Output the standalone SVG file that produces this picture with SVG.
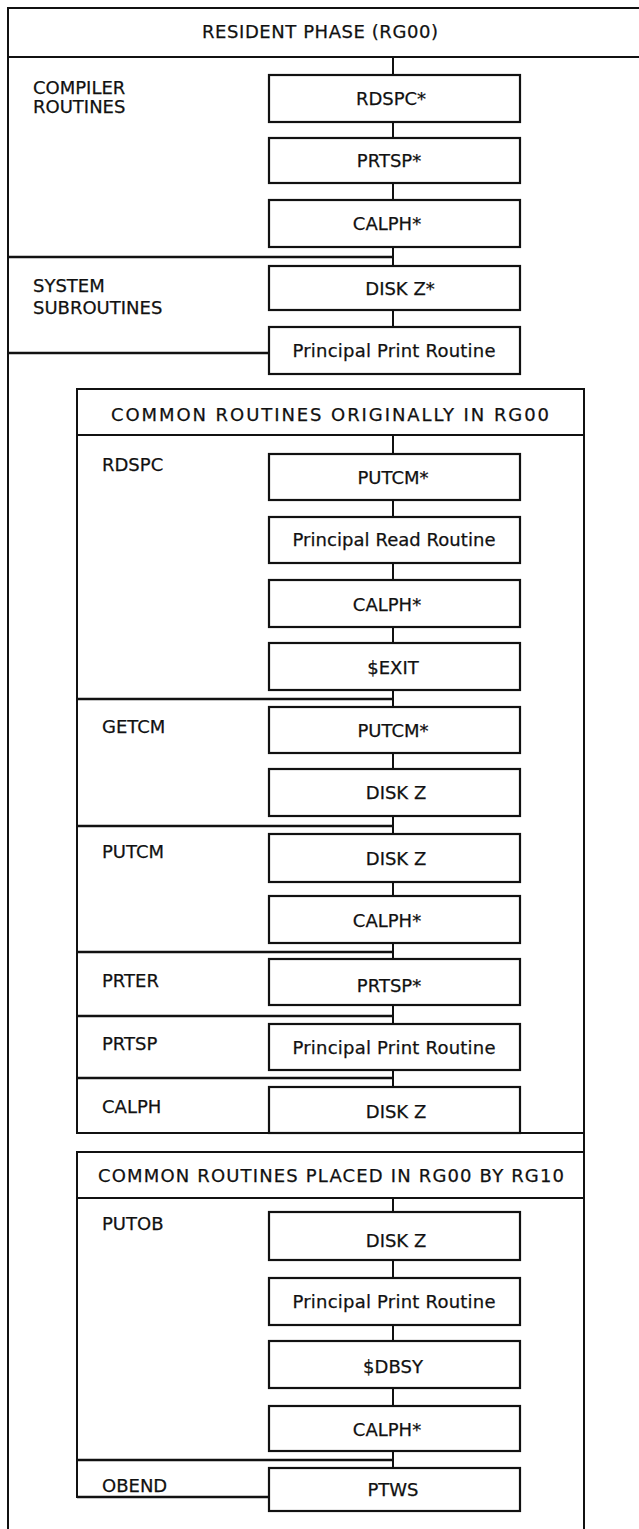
<svg xmlns="http://www.w3.org/2000/svg" width="639" height="1529" viewBox="0 0 639 1529">
<style>
  .ln { stroke: #111; stroke-width: 2; fill: none; stroke-linecap: square; }
  .sec { stroke: #111; stroke-width: 2.5; fill: none; }
  .box { fill: #fff; stroke: #111; stroke-width: 2.2; }
  .t { font-family: "DejaVu Sans", "Liberation Sans", sans-serif; font-size: 18px; fill: #111; stroke: #111; stroke-width: 0.25; }
  .c { text-anchor: middle; }
</style>
<rect x="0" y="0" width="639" height="1529" fill="#fff"/>

<g id="frames">
  <line class="ln" x1="8" y1="8" x2="639" y2="8"/>
  <line class="ln" x1="8" y1="57" x2="639" y2="57"/>
  <line class="ln" x1="8" y1="8" x2="8" y2="1529"/>
  <line class="ln" x1="77" y1="389" x2="584" y2="389"/>
  <line class="ln" x1="77" y1="435" x2="584" y2="435"/>
  <line class="ln" x1="77" y1="389" x2="77" y2="1133"/>
  <line class="ln" x1="77" y1="1133" x2="584" y2="1133"/>
  <line class="ln" x1="77" y1="1152" x2="584" y2="1152"/>
  <line class="ln" x1="77" y1="1198" x2="584" y2="1198"/>
  <line class="ln" x1="77" y1="1152" x2="77" y2="1497"/>
  <line class="ln" x1="584" y1="389" x2="584" y2="1529"/>
</g>

<g id="headers">
  <text id="h-resident" class="t c" x="320" y="38" textLength="236" lengthAdjust="spacing">RESIDENT PHASE (RG00)</text>
  <text id="h-common1" class="t c" x="330" y="421" textLength="438" lengthAdjust="spacing">COMMON ROUTINES ORIGINALLY IN RG00</text>
  <text id="h-common2" class="t c" x="331" y="1182" textLength="466" lengthAdjust="spacing">COMMON ROUTINES PLACED IN RG00 BY RG10</text>
</g>

<g id="section-labels">
  <text class="t" x="33" y="94">COMPILER</text>
  <text class="t" x="33" y="113">ROUTINES</text>
  <text class="t" x="33" y="292">SYSTEM</text>
  <text class="t" x="33" y="314">SUBROUTINES</text>
  <text class="t" x="102" y="471">RDSPC</text>
  <text class="t" x="102" y="733">GETCM</text>
  <text class="t" x="102" y="858">PUTCM</text>
  <text class="t" x="102" y="987">PRTER</text>
  <text class="t" x="102" y="1050">PRTSP</text>
  <text class="t" x="102" y="1113">CALPH</text>
  <text class="t" x="102" y="1230">PUTOB</text>
  <text class="t" x="102" y="1492">OBEND</text>
</g>

<g id="connectors">
  <path class="ln" d="M393 57V75 M393 122V138 M393 183V200 M393 247V266 M393 310V327
    M393 435V454 M393 500V517 M393 563V580 M393 627V643 M393 690V707 M393 753V769 M393 816V834
    M393 882V896 M393 943V959 M393 1005V1024 M393 1070V1087
    M393 1198V1212 M393 1260V1278 M393 1325V1341 M393 1388V1406 M393 1451V1468"/>
  <path class="sec" d="M8 257H393 M8 353H269 M77 699H393 M77 826H393 M77 952H393 M77 1016H393 M77 1078H393 M77 1460H393 M77 1497H269"/>
</g>

<g id="n-rdspc-star"><rect class="box" x="269" y="75" width="251" height="47"/><text class="t c" x="391" y="105">RDSPC*</text></g>
<g id="n-prtsp-star"><rect class="box" x="269" y="138" width="251" height="45"/><text class="t c" x="389" y="167">PRTSP*</text></g>
<g id="n-calph-star1"><rect class="box" x="269" y="200" width="251" height="47"/><text class="t c" x="387" y="230">CALPH*</text></g>
<g id="n-diskz-star"><rect class="box" x="269" y="266" width="251" height="44"/><text class="t c" x="400" y="295">DISK Z*</text></g>
<g id="n-ppr1"><rect class="box" x="269" y="327" width="251" height="47"/><text class="t c" x="394" y="357" textLength="203" lengthAdjust="spacing">Principal Print Routine</text></g>

<g id="n-putcm-star1"><rect class="box" x="269" y="454" width="251" height="46"/><text class="t c" x="393" y="484">PUTCM*</text></g>
<g id="n-prr"><rect class="box" x="269" y="517" width="251" height="46"/><text class="t c" x="394" y="546" textLength="203" lengthAdjust="spacing">Principal Read Routine</text></g>
<g id="n-calph-star2"><rect class="box" x="269" y="580" width="251" height="47"/><text class="t c" x="387" y="611">CALPH*</text></g>
<g id="n-exit"><rect class="box" x="269" y="643" width="251" height="47"/><text class="t c" x="393" y="674">$EXIT</text></g>
<g id="n-putcm-star2"><rect class="box" x="269" y="707" width="251" height="46"/><text class="t c" x="393" y="737">PUTCM*</text></g>
<g id="n-diskz1"><rect class="box" x="269" y="769" width="251" height="47"/><text class="t c" x="396" y="799">DISK Z</text></g>
<g id="n-diskz2"><rect class="box" x="269" y="834" width="251" height="48"/><text class="t c" x="396" y="865">DISK Z</text></g>
<g id="n-calph-star3"><rect class="box" x="269" y="896" width="251" height="47"/><text class="t c" x="387" y="927">CALPH*</text></g>
<g id="n-prtsp-star2"><rect class="box" x="269" y="959" width="251" height="46"/><text class="t c" x="389" y="992">PRTSP*</text></g>
<g id="n-ppr2"><rect class="box" x="269" y="1024" width="251" height="46"/><text class="t c" x="394" y="1054" textLength="203" lengthAdjust="spacing">Principal Print Routine</text></g>
<g id="n-diskz3"><rect class="box" x="269" y="1087" width="251" height="46"/><text class="t c" x="396" y="1118">DISK Z</text></g>

<g id="n-diskz4"><rect class="box" x="269" y="1212" width="251" height="48"/><text class="t c" x="396" y="1247">DISK Z</text></g>
<g id="n-ppr3"><rect class="box" x="269" y="1278" width="251" height="47"/><text class="t c" x="394" y="1308" textLength="203" lengthAdjust="spacing">Principal Print Routine</text></g>
<g id="n-dbsy"><rect class="box" x="269" y="1341" width="251" height="47"/><text class="t c" x="393" y="1373">$DBSY</text></g>
<g id="n-calph-star4"><rect class="box" x="269" y="1406" width="251" height="45"/><text class="t c" x="387" y="1436">CALPH*</text></g>
<g id="n-ptws"><rect class="box" x="269" y="1468" width="251" height="43"/><text class="t c" x="393" y="1496">PTWS</text></g>
</svg>
